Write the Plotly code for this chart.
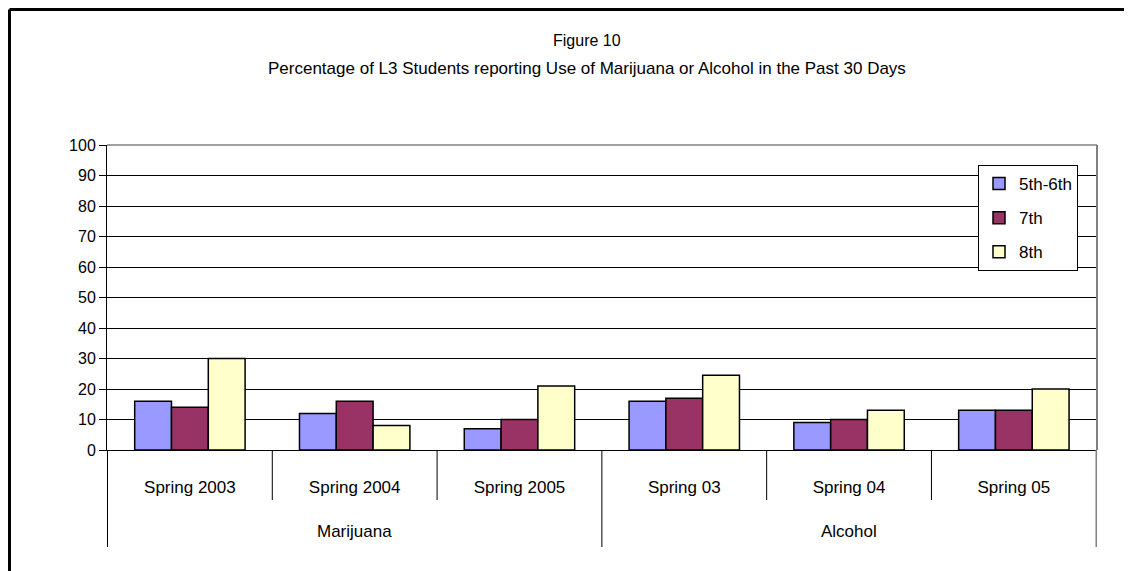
import plotly.graph_objects as go

# chart data
groups = ["Marijuana", "Marijuana", "Marijuana", "Alcohol", "Alcohol", "Alcohol"]
periods = ["Spring 2003", "Spring 2004", "Spring 2005", "Spring 03", "Spring 04", "Spring 05"]
grade_5_6 = [16, 12, 7, 16, 9, 13]
grade_7 = [14, 16, 10, 17, 10, 13]
grade_8 = [30, 8, 21, 24.5, 13, 20]
y_ticks = list(range(0, 101, 10))

FONT = "Arial, Liberation Sans, sans-serif"

fig = go.Figure()
series = [("5th-6th", grade_5_6, "#9999FF"),
          ("7th", grade_7, "#993366"),
          ("8th", grade_8, "#FFFFCC")]
for name, vals, col in series:
    fig.add_trace(go.Bar(x=periods, y=vals, name=name, legendgroup=name,
                         marker=dict(color=col, line=dict(color="black", width=1.5))))

# plot area in screen pixels: x 107..1097, y 145..450 (page has 8px body margin)
def py(pix):
    return (450 - pix) / 305

def px(pix):
    return (pix - 107) / 990

shapes = []
# short separators between periods
for i in [0.5, 1.5, 3.5, 4.5]:
    shapes.append(dict(type="line", xref="x", yref="paper", x0=i, x1=i, y0=0, y1=py(500),
                       line=dict(color="black", width=1)))
# long separators between groups
for i, c in [(-0.5, "black"), (2.5, "black"), (5.5, "#808080")]:
    shapes.append(dict(type="line", xref="x", yref="paper", x0=i, x1=i, y0=0, y1=py(547),
                       line=dict(color=c, width=1.5 if c != "black" else 1)))
# plot area border (gray top / right)
shapes.append(dict(type="line", xref="paper", yref="paper", x0=0, x1=1, y0=1, y1=1,
                   line=dict(color="#808080", width=1.5)))
shapes.append(dict(type="line", xref="paper", yref="paper", x0=1, x1=1, y0=0, y1=1,
                   line=dict(color="#808080", width=2)))
# outer chart frame (partly cut off)
shapes.append(dict(type="line", xref="paper", yref="paper", x0=px(9.5), x1=px(1140), y0=py(9.5), y1=py(9.5),
                   line=dict(color="black", width=3)))
shapes.append(dict(type="line", xref="paper", yref="paper", x0=px(9.5), x1=px(9.5), y0=py(9.5), y1=py(580),
                   line=dict(color="black", width=3)))

annotations = [
    dict(text="Figure 10", xref="paper", yref="paper", x=px(587), y=py(40),
         xanchor="center", yanchor="middle",
         showarrow=False, font=dict(size=16, color="black", family=FONT)),
    dict(text="Percentage of L3 Students reporting Use of Marijuana or Alcohol in the Past 30 Days",
         xref="paper", yref="paper", x=px(587), y=py(68), xanchor="center", yanchor="middle",
         showarrow=False, font=dict(size=17, color="black", family=FONT)),
]
group_names = list(dict.fromkeys(groups))
for g in group_names:
    idx = [i for i, v in enumerate(groups) if v == g]
    annotations.append(dict(text=g, xref="x", yref="paper", x=sum(idx) / len(idx), y=py(531),
                            xanchor="center", yanchor="middle",
                            showarrow=False, font=dict(size=17, color="black", family=FONT)))

fig.update_layout(
    width=1124, height=563,
    margin=dict(l=99, r=35, t=137, b=121),
    paper_bgcolor="white", plot_bgcolor="white",
    font=dict(family=FONT, size=16, color="black"),
    barmode="group", bargap=0.33, bargroupgap=0,
    showlegend=True,
    legend=dict(x=px(978), y=py(165), xanchor="left", yanchor="top",
                bordercolor="black", borderwidth=1, bgcolor="white",
                font=dict(size=17, family=FONT), tracegroupgap=9,
                itemwidth=30),
    shapes=shapes, annotations=annotations,
)
fig.update_xaxes(type="category", showline=True, linecolor="black", linewidth=1,
                 ticks="", showgrid=False, ticklabelstandoff=22,
                 tickfont=dict(size=17, family=FONT))
fig.update_yaxes(range=[0, 100], tickvals=y_ticks, showgrid=True, gridcolor="black", gridwidth=1,
                 showline=True, linecolor="black", linewidth=1, ticks="outside", ticklen=7,
                 tickcolor="black", zeroline=False, tickfont=dict(size=16, family=FONT))

fig.write_html("out.html")
